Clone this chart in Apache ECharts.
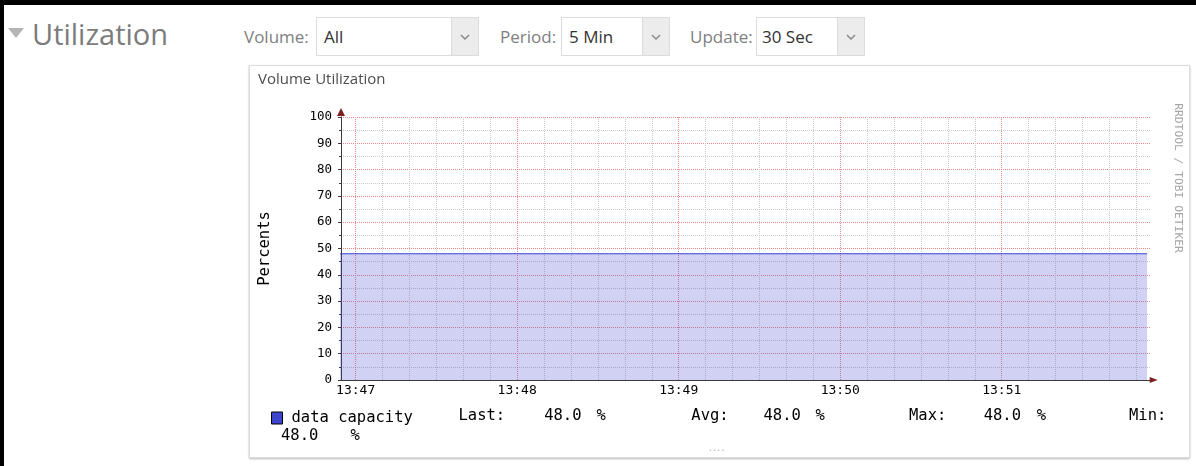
<!DOCTYPE html>
<html>
<head>
<meta charset="utf-8">
<title>Utilization</title>
<script src="https://cdn.jsdelivr.net/npm/echarts@6/dist/echarts.min.js"></script>
<style>
  html, body { margin: 0; padding: 0; background: #fff; }
  body { width: 1196px; height: 466px; overflow: hidden; position: relative; font-family: "Open Sans", sans-serif; }
  .frame-top { position: absolute; left: 0; top: 0; width: 1196px; height: 5px; background: #000; }
  .frame-left { position: absolute; left: 0; top: 0; width: 4px; height: 466px; background: #000; }
  .caret { position: absolute; left: 8px; top: 28px; width: 0; height: 0;
           border-left: 8px solid transparent; border-right: 8px solid transparent; border-top: 10px solid #b5b5b5; }
  .section { position: absolute; left: 32px; top: 19px; font-size: 29px; line-height: 29px; color: #7c7c7c; white-space: nowrap; }
  .lbl { position: absolute; top: 28px; font-size: 17px; line-height: 17px; color: #808080; white-space: nowrap; }
  .val { position: absolute; top: 28px; font-size: 17px; line-height: 17px; color: #333; white-space: nowrap; }
  .sel { position: absolute; top: 17px; height: 39px; box-sizing: border-box; border: 1px solid #dcdcdc; background: #fff; }
  .sel .btn { position: absolute; right: 0; top: 0; bottom: 0; width: 26px; background: #ececec; border-left: 1px solid #dcdcdc; }
  .sel .btn svg { position: absolute; left: 8px; top: 16px; }
  .panel { position: absolute; left: 249px; top: 65px; width: 941px; height: 393px; box-sizing: border-box;
           border: 1px solid #dcdcdc; background: #fff; box-shadow: 0 1px 2px rgba(0,0,0,0.28); }
  .grip { position: absolute; left: 709px; top: 442px; font-size: 10px; line-height: 10px; color: #aaa; letter-spacing: 1.5px; }
  #chart { position: absolute; left: 0; top: 0; width: 1196px; height: 466px; z-index: 2; }
</style>
</head>
<body>
  <div class="frame-top"></div>
  <div class="frame-left"></div>

  <div class="caret"></div>
  <div class="section">Utilization</div>

  <div class="lbl" style="left:244px">Volume:</div>
  <div class="sel" style="left:316px;width:163px"><div class="btn"><svg width="10" height="6" viewBox="0 0 10 6"><polyline points="1,1 5,5 9,1" fill="none" stroke="#8a8a8a" stroke-width="1.5"/></svg></div></div>
  <div class="val" style="left:324px">All</div>

  <div class="lbl" style="left:500px">Period:</div>
  <div class="sel" style="left:561px;width:109px"><div class="btn"><svg width="10" height="6" viewBox="0 0 10 6"><polyline points="1,1 5,5 9,1" fill="none" stroke="#8a8a8a" stroke-width="1.5"/></svg></div></div>
  <div class="val" style="left:569px">5 Min</div>

  <div class="lbl" style="left:690px">Update:</div>
  <div class="sel" style="left:756px;width:109px"><div class="btn"><svg width="10" height="6" viewBox="0 0 10 6"><polyline points="1,1 5,5 9,1" fill="none" stroke="#8a8a8a" stroke-width="1.5"/></svg></div></div>
  <div class="val" style="left:762px">30 Sec</div>

  <div class="panel"></div>
  <div class="grip">....</div>

  <div id="chart"></div>

<script>
// Samples of the "data capacity" data source (10 s step over the 5 minute period)
const sampleTimes = [
  '13:46:54', '13:47:04', '13:47:14', '13:47:24', '13:47:34', '13:47:44', '13:47:54',
  '13:48:04', '13:48:14', '13:48:24', '13:48:34', '13:48:44', '13:48:54',
  '13:49:04', '13:49:14', '13:49:24', '13:49:34', '13:49:44', '13:49:54',
  '13:50:04', '13:50:14', '13:50:24', '13:50:34', '13:50:44', '13:50:54',
  '13:51:04', '13:51:14', '13:51:24', '13:51:34', '13:51:44', '13:51:54'
];
const capacityPct = [
  48.0, 48.0, 48.0, 48.0, 48.0, 48.0, 48.0,
  48.0, 48.0, 48.0, 48.0, 48.0, 48.0,
  48.0, 48.0, 48.0, 48.0, 48.0, 48.0,
  48.0, 48.0, 48.0, 48.0, 48.0, 48.0,
  48.0, 48.0, 48.0, 48.0, 48.0, 48.0
];
const minuteLabels = ['13:47', '13:48', '13:49', '13:50', '13:51'];
const percentTicks = [0, 10, 20, 30, 40, 50, 60, 70, 80, 90, 100];

// visible time window of the graph
const viewStart = '13:46:54.55';
const viewEnd = '13:51:55.45';

function toSec(s) {
  const p = s.split(':').map(Number);
  return p[0] * 3600 + p[1] * 60 + (p[2] || 0);
}
function secToHM(v) {
  const h = Math.floor(v / 3600);
  const m = Math.floor((v % 3600) / 60);
  return h + ':' + String(m).padStart(2, '0');
}

// canvas geometry (pixels)
const plotLeft = 341, plotTop = 117, plotWidth = 810, plotHeight = 263;
const t0 = toSec(viewStart), t1 = toSec(viewEnd);
const pxPerSec = plotWidth / (t1 - t0);
const gridStart = toSec(minuteLabels[0] + ':00');
const gridEnd = gridStart + minuteLabels.length * 60;
const guideLeft = plotLeft + (gridStart - t0) * pxPerSec;
const guideWidth = (gridEnd - gridStart) * pxPerSec;

const mono = '"DejaVu Sans Mono", monospace';
const legendSize = 15.5;
const axisColor = '#3a3a3a';
const arrowColor = '#801f1f';
const majorGridColor = '#e98a8a';
const minorGridColor = '#cbcbcb';

// legend statistics
const last = capacityPct[capacityPct.length - 1];
const avg = capacityPct.reduce((a, b) => a + b, 0) / capacityPct.length;
const max = Math.max.apply(null, capacityPct);
const min = Math.min.apply(null, capacityPct);
const fmt = v => v.toFixed(1);

const row1 = 416, row2 = 435.5;
const statTexts = [
  { text: 'Last:', x: 458.5, y: row1 },
  { text: fmt(last), x: 544.2, y: row1 },
  { text: '%', x: 596.4, y: row1 },
  { text: 'Avg:', x: 691.3, y: row1 },
  { text: fmt(avg), x: 763.5, y: row1 },
  { text: '%', x: 815.5, y: row1 },
  { text: 'Max:', x: 909, y: row1 },
  { text: fmt(max), x: 983.7, y: row1 },
  { text: '%', x: 1036.7, y: row1 },
  { text: 'Min:', x: 1129, y: row1 },
  { text: fmt(min), x: 281, y: row2 },
  { text: '%', x: 350.4, y: row2 }
];

const chart = echarts.init(document.getElementById('chart'), null, { renderer: 'canvas' });

chart.setOption({
  animation: false,
  backgroundColor: 'transparent',
  title: {
    text: 'Volume Utilization',
    left: 258, top: 72.5, padding: 0,
    textStyle: { fontFamily: '"Open Sans", sans-serif', fontSize: 15, fontWeight: 'normal', color: '#4d4d4d' }
  },
  legend: {
    data: ['data capacity'],
    left: 271, top: 410, padding: 0,
    itemWidth: 11, itemHeight: 12, icon: 'rect',
    selectedMode: false,
    itemStyle: { color: '#3d45cc', borderColor: '#000', borderWidth: 1 },
    textStyle: { fontFamily: mono, fontSize: legendSize, color: '#000', padding: [0, 0, 0, 4] }
  },
  grid: [
    { left: plotLeft, top: plotTop, width: plotWidth, height: plotHeight },
    { left: guideLeft, top: plotTop, width: guideWidth, height: plotHeight }
  ],
  xAxis: [
    { // time axis of the plot
      type: 'value', gridIndex: 0, position: 'bottom', min: t0, max: t1,
      axisLine: { lineStyle: { color: axisColor, width: 1 } },
      axisTick: { show: false }, axisLabel: { show: false }, splitLine: { show: false }
    },
    { // arrow head at the end of the time axis
      type: 'value', gridIndex: 0, position: 'bottom', min: t0, max: t1,
      axisLine: { lineStyle: { color: arrowColor, width: 0 }, symbol: ['none', 'triangle'], symbolSize: [6, 8], symbolOffset: [0, 2.7] },
      axisTick: { show: false }, axisLabel: { show: false }, splitLine: { show: false }
    },
    { // minute / 10 s grid and labels
      type: 'value', gridIndex: 1, position: 'bottom',
      min: gridStart, max: gridEnd, interval: 60,
      axisLine: { show: false },
      axisTick: { show: false },
      minorTick: { show: false, splitNumber: 6 },
      axisLabel: {
        fontFamily: mono, fontSize: 13, color: '#000', margin: 4,
        showMaxLabel: false,
        formatter: v => { const s = secToHM(v); return minuteLabels.indexOf(s) >= 0 ? s : ''; }
      },
      splitLine: { show: true, showMaxLine: false, lineStyle: { color: majorGridColor, type: 'dotted', width: 1 } },
      minorSplitLine: { show: true, lineStyle: { color: minorGridColor, type: 'dotted', width: 1 } }
    }
  ],
  yAxis: [
    {
      type: 'value', gridIndex: 0, position: 'left',
      min: percentTicks[0], max: percentTicks[percentTicks.length - 1], interval: percentTicks[1] - percentTicks[0],
      name: 'Percents', nameLocation: 'middle', nameRotate: 90, nameGap: 68.5,
      nameTextStyle: { fontFamily: mono, fontSize: legendSize, color: '#000' },
      axisLine: { show: true, lineStyle: { color: axisColor, width: 1 } },
      axisTick: { show: true, length: 3, lineStyle: { color: axisColor } },
      minorTick: { show: true, splitNumber: 2, length: 2, lineStyle: { color: axisColor } },
      axisLabel: { fontFamily: mono, fontSize: 12.5, color: '#000', margin: 9 },
      splitLine: { show: true, lineStyle: { color: majorGridColor, type: 'dotted', width: 1 } },
      minorSplitLine: { show: true, lineStyle: { color: minorGridColor, type: 'dotted', width: 1 } }
    },
    { // arrow head at the top of the value axis
      type: 'value', gridIndex: 0, position: 'left', min: 0, max: 100,
      axisLine: { show: true, lineStyle: { color: arrowColor, width: 0 }, symbol: ['none', 'triangle'], symbolSize: [8, 8], symbolOffset: [0, 5] },
      axisTick: { show: false }, axisLabel: { show: false }, splitLine: { show: false }
    },
    {
      type: 'value', gridIndex: 1, min: 0, max: 100, show: false
    }
  ],
  series: [
    {
      name: 'data capacity',
      type: 'line',
      xAxisIndex: 0, yAxisIndex: 0,
      data: sampleTimes.map((t, i) => [toSec(t), capacityPct[i]]),
      showSymbol: false, symbol: 'none',
      silent: true,
      z: 3,
      itemStyle: { color: '#3d45cc' },
      lineStyle: { color: '#3a41cc', width: 1 },
      areaStyle: { color: 'rgba(61,68,204,0.34)', origin: 'start' }
    }
  ],
  graphic: statTexts.map(s => ({
    type: 'text', x: s.x, y: s.y, silent: true,
    style: { text: s.text, font: legendSize + 'px ' + mono, fill: '#000', verticalAlign: 'middle', textVerticalAlign: 'middle' }
  })).concat([{
    type: 'text', x: 1178, y: 178, rotation: -Math.PI / 2, silent: true,
    style: {
      text: 'RRDTOOL / TOBI OETIKER', font: '11.3px ' + mono, fill: '#a6a6a6',
      align: 'center', textAlign: 'center', verticalAlign: 'middle', textVerticalAlign: 'middle'
    }
  }])
});
</script>
</body>
</html>
